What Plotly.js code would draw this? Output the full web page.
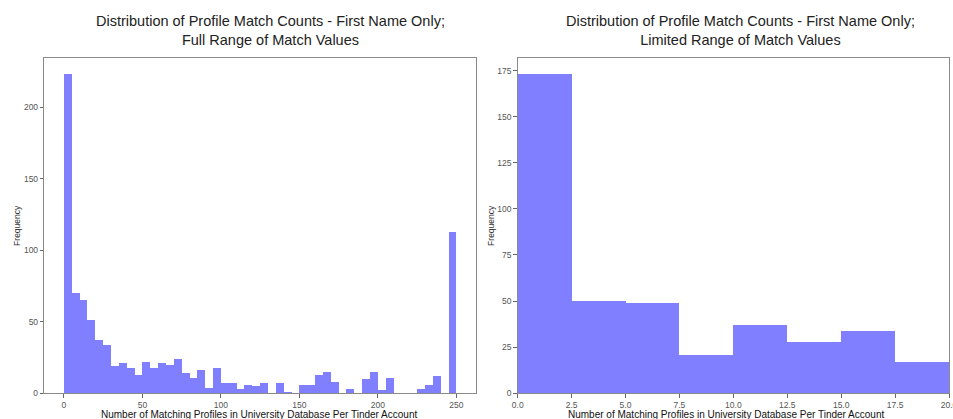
<!DOCTYPE html>
<html>
<head>
<meta charset="utf-8">
<script src="https://cdn.plot.ly/plotly-3.0.1.min.js"></script>
<style>html,body{margin:0;padding:0;background:#fff;}#chart{width:953px;height:419px;}</style>
</head>
<body>
<div id="chart"></div>
<script>
// Left histogram: bin starts (width 5) and counts
const fullBinStarts = [0,5,10,15,20,25,30,35,40,45,50,55,60,65,70,75,80,85,90,95,100,105,110,115,120,125,130,135,140,145,150,155,160,165,170,175,180,185,190,195,200,205,210,215,220,225,230,235,240,245];
const fullCounts = [223,70,65,51,37,34,19,21,18,13,22,18,21,20,24,14,11,16,4,18,7,7,3,6,5,7,0,7,1,0,6,6,13,15,8,0,3,0,10,15,2,11,0,0,0,3,6,12,0,113];
const fullBinWidth = 5;

// Right histogram: bin starts (width 2.5) and counts
const limitedBinStarts = [0,2.5,5,7.5,10,12.5,15,17.5];
const limitedCounts = [173,50,49,21,37,28,34,17];
const limitedBinWidth = 2.5;

const fullTicks = [0,50,100,150,200,250];
const fullYTicks = [0,50,100,150,200];
const limitedTicks = [0,2.5,5,7.5,10,12.5,15,17.5,20];
const limitedTickText = ["0.0","2.5","5.0","7.5","10.0","12.5","15.0","17.5","20.0"];
const limitedYTicks = [0,25,50,75,100,125,150,175];

const titleLeft = "Distribution of Profile Match Counts - First Name Only;<br>Full Range of Match Values";
const titleRight = "Distribution of Profile Match Counts - First Name Only;<br>Limited Range of Match Values";
const xTitle = "Number of Matching Profiles in University Database Per Tinder Account";
const yTitle = "Frequency";

const W = 953, H = 419;
const px = v => v / W;
const py = v => 1 - v / H;

const barColor = "rgb(127,127,255)";
const FONT = "Liberation Sans, Arial, sans-serif";

const traces = [
  {type:"bar", x: fullBinStarts, y: fullCounts, width: fullBinWidth, offset: 0,
   marker:{color: barColor, line:{width:0}}, xaxis:"x", yaxis:"y", hoverinfo:"x+y"},
  {type:"bar", x: limitedBinStarts, y: limitedCounts, width: limitedBinWidth, offset: 0,
   marker:{color: barColor, line:{width:0}}, xaxis:"x2", yaxis:"y2", hoverinfo:"x+y"}
];

const axBase = {
  showline: true, mirror: true, linecolor: "#8a8a8a", linewidth: 1,
  ticks: "outside", ticklen: 3.5, tickwidth: 1, tickcolor: "#666",
  tickfont: {family: FONT, size: 8.5, color: "#555"},
  showgrid: false, zeroline: false, fixedrange: true,
  ticklabeloverflow: "allow"
};

const layout = {
  width: W, height: H,
  margin: {l:0, r:0, t:0, b:0},
  paper_bgcolor: "#fff", plot_bgcolor: "#fff",
  showlegend: false, bargap: 0,
  font: {family: FONT},
  xaxis: Object.assign({}, axBase, {
    domain: [px(44.3), px(476)], range: [-12.5, 262.5],
    tickvals: fullTicks, anchor: "y"
  }),
  yaxis: Object.assign({}, axBase, {
    domain: [1 - 393.3/H, 1 - 58.3/H], range: [0, 234.15],
    tickvals: fullYTicks, anchor: "x",
    title: {text: yTitle, font: {family: FONT, size: 8.5, color: "#333"}, standoff: 1}
  }),
  xaxis2: Object.assign({}, axBase, {
    domain: [px(517.7), px(949)], range: [0, 20],
    tickvals: limitedTicks, ticktext: limitedTickText, anchor: "y2"
  }),
  yaxis2: Object.assign({}, axBase, {
    domain: [1 - 393.3/H, 1 - 58.3/H], range: [0, 181.65],
    tickvals: limitedYTicks, anchor: "x2",
    title: {text: yTitle, font: {family: FONT, size: 8.5, color: "#333"}, standoff: 1}
  }),
  annotations: [
    {text: titleLeft, xref:"paper", yref:"paper", x: px(270), y: py(31), xanchor:"center", yanchor:"middle",
     showarrow:false, font:{family: FONT, size: 14.5, color:"#222"}},
    {text: titleRight, xref:"paper", yref:"paper", x: px(740), y: py(31), xanchor:"center", yanchor:"middle",
     showarrow:false, font:{family: FONT, size: 14.5, color:"#222"}},
    {text: xTitle, xref:"paper", yref:"paper", x: px(259), y: py(414), xanchor:"center", yanchor:"middle",
     showarrow:false, font:{family: FONT, size: 10, color:"#111"}},
    {text: xTitle, xref:"paper", yref:"paper", x: px(725.5), y: py(414), xanchor:"center", yanchor:"middle",
     showarrow:false, font:{family: FONT, size: 10, color:"#111"}}
  ]
};

Plotly.newPlot("chart", traces, layout, {displayModeBar:false, staticPlot:true});
</script>
</body>
</html>
